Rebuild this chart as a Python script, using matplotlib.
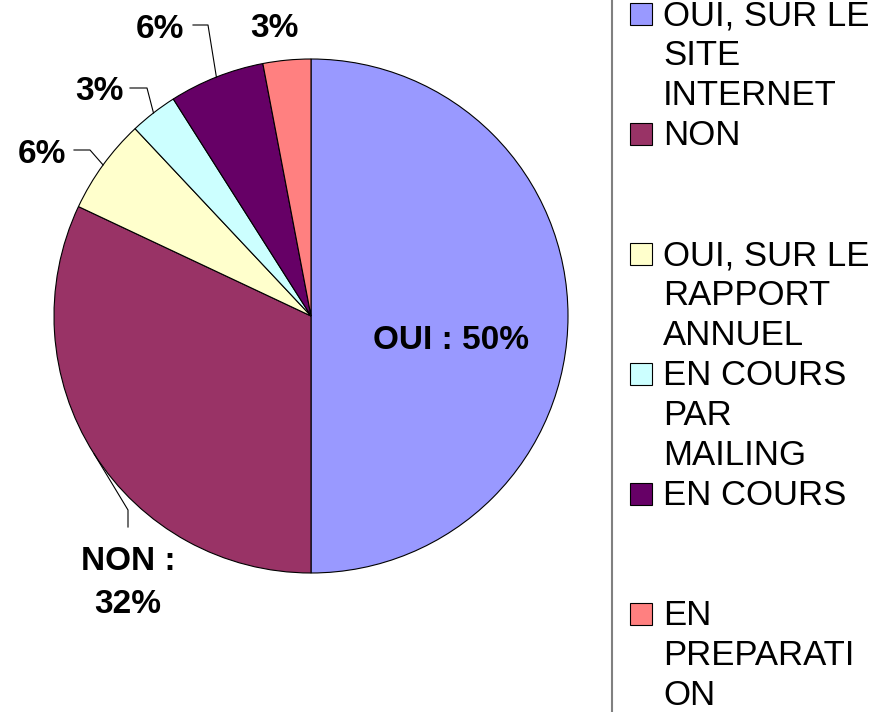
import numpy as np
import matplotlib
matplotlib.use("Agg")
import matplotlib.pyplot as plt
from matplotlib.patches import Rectangle

plt.rcParams['font.family'] = ['Liberation Sans', 'DejaVu Sans']

# Survey answers (percent)
categories = ["OUI, SUR LE SITE INTERNET", "NON", "OUI, SUR LE RAPPORT ANNUEL",
              "EN COURS PAR MAILING", "EN COURS", "EN PREPARATION"]
values = [50, 32, 6, 3, 6, 3]
colors = ["#9999FF", "#993366", "#FFFFCC", "#CCFFFF", "#660066", "#FF8080"]
slice_labels = ["OUI : 50%", "NON :\n32%", "6%", "3%", "6%", "3%"]
legend_lines = [["OUI, SUR LE", "SITE", "INTERNET"],
                ["NON"],
                ["OUI, SUR LE", "RAPPORT", "ANNUEL"],
                ["EN COURS", "PAR", "MAILING"],
                ["EN COURS"],
                ["EN", "PREPARATI", "ON"]]

W, H = 881, 712
fig = plt.figure(figsize=(W / 100, H / 100), dpi=100)
ax = fig.add_axes([0, 0, 1, 1])


def Y(y):
    return H - y


cx, cy, R = 311, 316, 257
wedges, _ = ax.pie(values, colors=colors, startangle=90, counterclock=False,
                   center=(cx, Y(cy)), radius=R, frame=True,
                   wedgeprops=dict(edgecolor="black", linewidth=0.8))
ax.set_xlim(0, W)
ax.set_ylim(0, H)
ax.set_aspect("equal")
ax.axis("off")


def edge_point(w, r=R):
    mid = np.deg2rad((w.theta1 + w.theta2) / 2)
    return cx + r * np.cos(mid), Y(cy) + r * np.sin(mid)


lab_kw = dict(fontsize=24, fontweight="bold", ha="center", va="baseline")

# Label inside the big slice
ax.text(451, Y(349), slice_labels[0], **lab_kw)

# NON label with leader
ex, ey = edge_point(wedges[1])
ax.plot([ex, 128, 128], [ey, Y(510), Y(527)], color="black", lw=0.8)
non_top, non_bottom = slice_labels[1].split("\n")
ax.text(128, Y(570), non_top, **lab_kw)
ax.text(128, Y(613), non_bottom, **lab_kw)

# Small slices: label position (centre x, baseline) and elbow of the leader
small = [(2, (42, 163), [(74, 150), (90, 150)]),
         (3, (99, 100), [(130, 88), (147, 88)]),
         (4, (160, 38), [(193, 25), (208, 25)]),
         (5, (274, 37), None)]
for idx, (tx, ty), elbow in small:
    ax.text(tx, Y(ty), slice_labels[idx], **lab_kw)
    if elbow:
        ex, ey = edge_point(wedges[idx])
        xs = [p[0] for p in elbow] + [ex]
        ys = [Y(p[1]) for p in elbow] + [ey]
        ax.plot(xs, ys, color="black", lw=0.8)

# Legend
ax.plot([612, 612], [0, H], color="#808080", lw=1.5)
slot = 120
for i, (lines, col) in enumerate(zip(legend_lines, colors)):
    base = 25 + slot * i
    ax.add_patch(Rectangle((630, Y(base)), 22, 22, facecolor=col,
                           edgecolor="black", lw=0.8))
    for j, line in enumerate(lines):
        ax.text(663, Y(base + 40 * j), line, fontsize=25, ha="left",
                va="baseline")

fig.savefig("out.png", dpi=100)
